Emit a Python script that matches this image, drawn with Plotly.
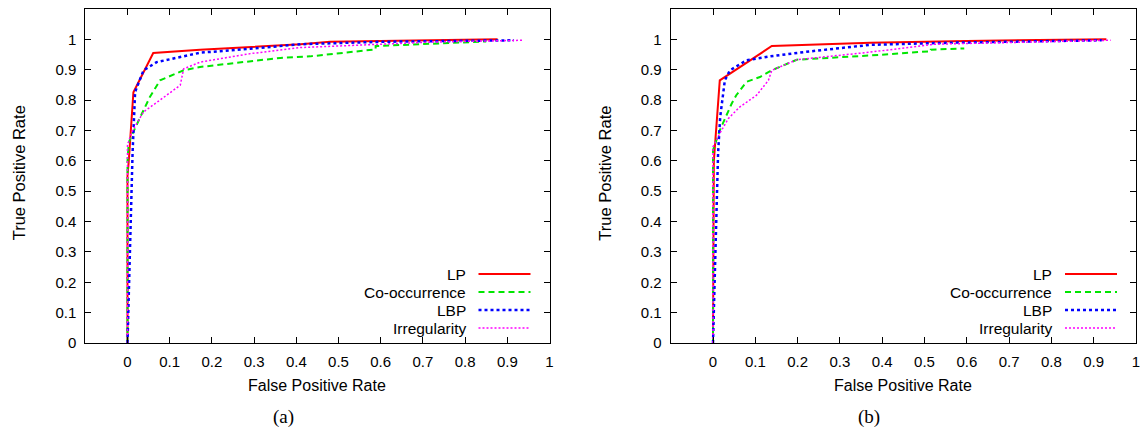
import plotly.graph_objects as go

W, H = 1142, 429

series_names = ["LP", "Co-occurrence", "LBP", "Irregularity"]

# Panel (a)
a_lp_x = [0, 0, 0.003, 0.014, 0.061, 0.172, 0.41, 0.48, 0.877]
a_lp_y = [0, 0.55, 0.6, 0.826, 0.955, 0.966, 0.984, 0.992, 1.0]
a_co_x = [0, 0, 0.003, 0.01, 0.034, 0.053, 0.077, 0.133, 0.172, 0.362, 0.433, 0.588, 0.588, 0.679, 0.85]
a_co_y = [0, 0.6, 0.66, 0.684, 0.755, 0.81, 0.865, 0.898, 0.909, 0.939, 0.944, 0.967, 0.978, 0.984, 0.993]
a_lbp_x = [0, 0.012, 0.018, 0.038, 0.069, 0.172, 0.291, 0.41, 0.6, 0.916]
a_lbp_y = [0, 0.625, 0.827, 0.898, 0.925, 0.956, 0.969, 0.984, 0.992, 0.997]
a_ir_x = [0, 0, 0.01, 0.038, 0.077, 0.125, 0.133, 0.172, 0.291, 0.41, 0.6, 0.718, 0.938]
a_ir_y = [0, 0.651, 0.695, 0.761, 0.8, 0.849, 0.903, 0.925, 0.953, 0.973, 0.984, 0.991, 0.997]

# Panel (b)
b_lp_x = [0, 0.002, 0.016, 0.139, 0.372, 0.6, 0.93]
b_lp_y = [0, 0.6, 0.865, 0.978, 0.989, 0.995, 1.0]
b_co_x = [0, 0, 0.016, 0.044, 0.055, 0.079, 0.111, 0.139, 0.198, 0.372, 0.515, 0.515, 0.594]
b_co_y = [0, 0.635, 0.70, 0.788, 0.816, 0.86, 0.876, 0.898, 0.933, 0.947, 0.961, 0.966, 0.97]
b_lbp_x = [0, 0.012, 0.017, 0.028, 0.04, 0.079, 0.135, 0.214, 0.372, 0.562, 0.919]
b_lbp_y = [0, 0.625, 0.744, 0.865, 0.898, 0.931, 0.944, 0.958, 0.982, 0.989, 0.997]
b_ir_x = [0, 0, 0.016, 0.036, 0.063, 0.103, 0.131, 0.139, 0.198, 0.372, 0.523, 0.94]
b_ir_y = [0, 0.646, 0.69, 0.739, 0.777, 0.816, 0.865, 0.898, 0.933, 0.958, 0.984, 0.997]

tick_vals = [0, 0.1, 0.2, 0.3, 0.4, 0.5, 0.6, 0.7, 0.8, 0.9, 1]
tick_text = ["0", "0.1", "0.2", "0.3", "0.4", "0.5", "0.6", "0.7", "0.8", "0.9", "1"]
panel_labels = ["(a)", "(b)"]

colors = ["#ff0000", "#00e600", "#0000ff", "#ff00ff"]
dashes = ["solid", "6px,4px", "3px,3px", "2px,2px"]
widths = [2, 2, 2.5, 1.5]

FONT = "Liberation Sans, Arial, Helvetica, sans-serif"

fig = go.Figure()

panels = [
    ([a_lp_x, a_co_x, a_lbp_x, a_ir_x], [a_lp_y, a_co_y, a_lbp_y, a_ir_y], "x", "y"),
    ([b_lp_x, b_co_x, b_lbp_x, b_ir_x], [b_lp_y, b_co_y, b_lbp_y, b_ir_y], "x2", "y2"),
]
for xs, ys, xa, ya in panels:
    for i, name in enumerate(series_names):
        fig.add_trace(go.Scatter(
            x=xs[i], y=ys[i], mode="lines", name=name, showlegend=False,
            xaxis=xa, yaxis=ya,
            line=dict(color=colors[i], dash=dashes[i], width=widths[i]),
        ))

def px(v):
    return v / W

def py(v):
    return (H - v) / H

# panel geometry in pixels
panel_px = [(85.3, 549.5), (670.7, 1136.0)]
ytop, ybot = 9.0, 343.0

axis_common = dict(
    showline=True, linecolor="black", linewidth=1, mirror="allticks",
    ticks="inside", ticklen=6, tickcolor="black", tickwidth=1,
    showgrid=False, zeroline=False, automargin=False,
    tickfont=dict(family=FONT, size=15, color="black"),
    tickmode="array", tickvals=tick_vals, ticktext=tick_text,
)

layout = dict(
    width=W, height=H,
    margin=dict(l=0, r=0, t=0, b=0),
    paper_bgcolor="white", plot_bgcolor="white",
    showlegend=False,
)
for k, (l, r) in enumerate(panel_px):
    sfx = "" if k == 0 else "2"
    layout["xaxis" + sfx] = dict(axis_common, domain=[px(l), px(r)], range=[-0.1, 1.0],
                                 anchor="y" + sfx, ticklabelstandoff=5)
    layout["yaxis" + sfx] = dict(axis_common, domain=[py(ybot), py(ytop)], range=[0, 1.1],
                                 anchor="x" + sfx, ticklabelstandoff=5)

fig.update_layout(**layout)

annotations = []
shapes = []
legend_rows = [274, 292, 310, 328]
for k, (l, r) in enumerate(panel_px):
    cx = (l + r) / 2
    annotations.append(dict(text="True Positive Rate", x=px(l - 66), y=py(173), xref="paper", yref="paper",
                            showarrow=False, textangle=-90, xanchor="center", yanchor="middle",
                            font=dict(family=FONT, size=16.5, color="black")))
    annotations.append(dict(text="False Positive Rate", x=px(cx), y=py(385), xref="paper", yref="paper",
                            showarrow=False, xanchor="center", yanchor="middle",
                            font=dict(family=FONT, size=16, color="black")))
    annotations.append(dict(text=panel_labels[k], x=px(cx - 34), y=py(417), xref="paper", yref="paper",
                            showarrow=False, xanchor="center", yanchor="middle",
                            font=dict(family="Liberation Serif, Times New Roman, serif", size=19, color="black")))
    for i, name in enumerate(series_names):
        yy = legend_rows[i]
        annotations.append(dict(text=name, x=px(r - 82), y=py(yy), xref="paper", yref="paper",
                                showarrow=False, xanchor="right", yanchor="middle",
                                font=dict(family=FONT, size=15.5, color="black")))
        shapes.append(dict(type="line", xref="paper", yref="paper",
                           x0=px(r - 71), x1=px(r - 19), y0=py(yy), y1=py(yy),
                           line=dict(color=colors[i], dash=dashes[i], width=widths[i])))

fig.update_layout(annotations=annotations, shapes=shapes)

fig.write_html("out.html", config={"displayModeBar": False},
               post_script="document.body.style.margin='0px';document.body.style.overflow='hidden';")
